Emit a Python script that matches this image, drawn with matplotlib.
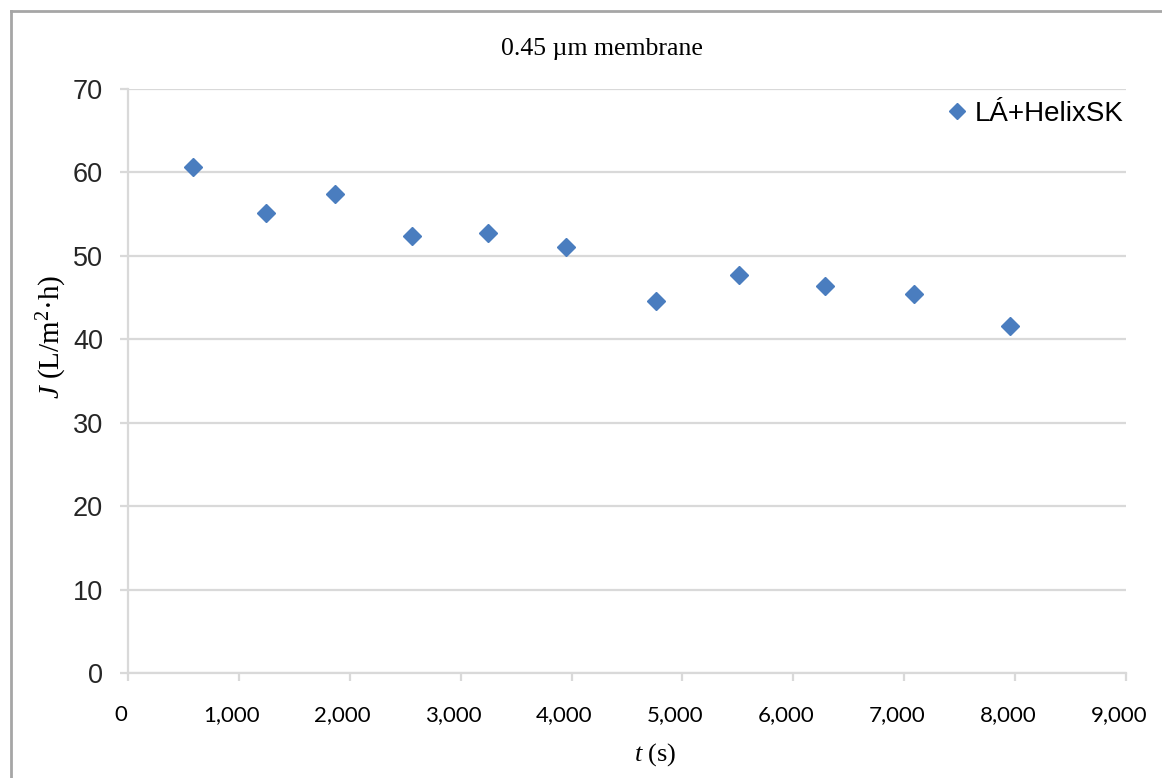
"""
Flux vs time for the 0.45 um membrane (LÁ+HelixSK).
"""
import matplotlib
matplotlib.use('Agg')
import matplotlib.pyplot as plt
from matplotlib.lines import Line2D
from matplotlib.ticker import FuncFormatter
from matplotlib.transforms import ScaledTranslation

# ── Data ─────────────────────────────────────────────────────────────────────
series_label = 'LÁ+HelixSK'
t_s = [589, 1243, 1868, 2560, 3249, 3953, 4765, 5514, 6290, 7085, 7951]
J_flux = [60.7, 55.1, 57.4, 52.4, 52.7, 51.1, 44.6, 47.7, 46.4, 45.4, 41.6]

x_ticks = [0, 1000, 2000, 3000, 4000, 5000, 6000, 7000, 8000, 9000]
y_ticks = [0, 10, 20, 30, 40, 50, 60, 70]

# ── Style ────────────────────────────────────────────────────────────────────
W, H = 1162, 778
GRID = '#d9d9d9'
BLUE = '#4a7dbf'
SERIF = 'Liberation Serif'

plt.rcParams['mathtext.fontset'] = 'custom'
plt.rcParams['mathtext.rm'] = SERIF
plt.rcParams['mathtext.it'] = SERIF + ':italic'

fig = plt.figure(figsize=(W / 100, H / 100), dpi=100)
ax = fig.add_axes([128 / W, 1 - 673 / H, (1126 - 128) / W, (673 - 89) / H])

ax.plot(t_s, J_flux, linestyle='none', marker='D', ms=9.2,
        color=BLUE, mec=BLUE, label=series_label, zorder=3)

ax.set_xlim(x_ticks[0], x_ticks[-1])
ax.set_ylim(y_ticks[0], y_ticks[-1])
ax.set_xticks(x_ticks)
ax.set_yticks(y_ticks)
ax.xaxis.set_major_formatter(FuncFormatter(lambda v, p: '{:,.0f}'.format(v)))

ax.grid(True, axis='y', color=GRID, lw=1.6, zorder=0)
ax.set_axisbelow(True)
for side in ('top', 'right'):
    ax.spines[side].set_visible(False)
for side in ('left', 'bottom'):
    ax.spines[side].set_color(GRID)
    ax.spines[side].set_linewidth(1.6)

ax.tick_params(axis='y', direction='out', length=6, width=1.6, color=GRID,
               pad=12, labelsize=19.5, labelcolor='#262626')
ax.tick_params(axis='x', direction='out', length=6, width=1.6, color=GRID,
               pad=17, labelsize=16, labelcolor='black')
for lab in ax.get_yticklabels():
    lab.set_fontfamily('Liberation Sans')
# x tick labels sit a little left of their ticks in the original
shift = ScaledTranslation(-7 / 100, 0, fig.dpi_scale_trans)
for lab in ax.get_xticklabels():
    lab.set_fontfamily('Lato')
    lab.set_transform(lab.get_transform() + shift)

# ── Texts ────────────────────────────────────────────────────────────────────
fig.text(602 / W, 1 - 49 / H, '0.45 µm membrane', family=SERIF,
         fontsize=18.5, ha='center', va='center')
fig.text(655 / W, 1 - 755 / H, r'$\mathit{t}$ (s)', family=SERIF,
         fontsize=19, ha='center', va='center')
fig.text(52 / W, 1 - 337 / H, r'$\mathit{J}$ (L/m$^2$·h)', family=SERIF,
         fontsize=21, ha='center', va='center', rotation=90)

leg = ax.legend(loc='center right', bbox_to_anchor=(1124 / W, 1 - 114 / H),
                bbox_transform=fig.transFigure, frameon=False, borderpad=0,
                borderaxespad=0, handlelength=0.6, handletextpad=0.35,
                prop={'family': 'Liberation Sans', 'size': 20})
leg.legend_handles[0].set_markersize(8)

# outer frame of the picture (only top and left edges visible)
fig.add_artist(Line2D([11 / W, 1.0], [1 - 11 / H, 1 - 11 / H],
                      transform=fig.transFigure, color='#a6a6a6', lw=2))
fig.add_artist(Line2D([11 / W, 11 / W], [0.0, 1 - 11 / H],
                      transform=fig.transFigure, color='#a6a6a6', lw=2))

fig.savefig('out.png', dpi=100)
